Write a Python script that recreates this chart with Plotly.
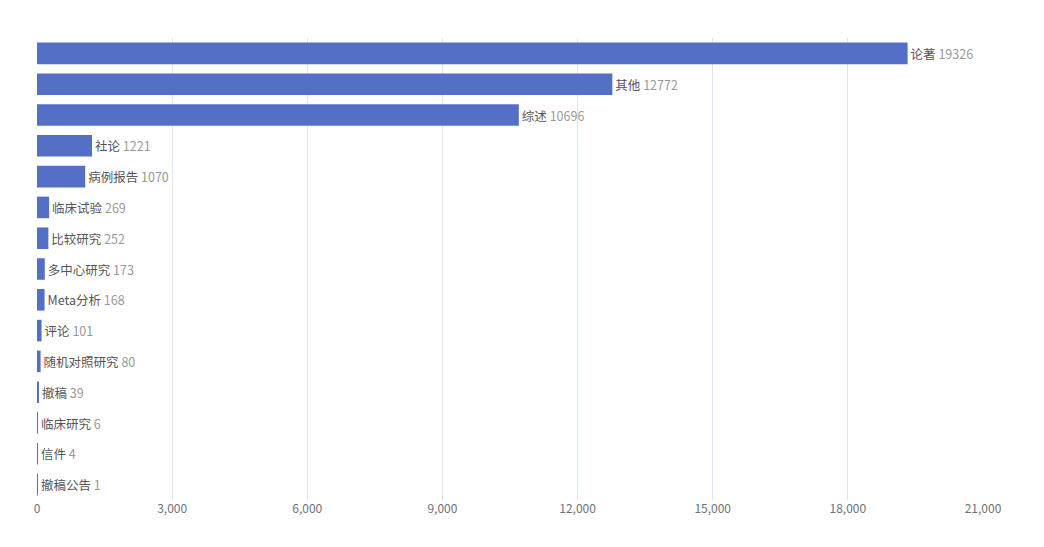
import plotly.graph_objects as go

categories = ["论著", "其他", "综述", "社论", "病例报告", "临床试验", "比较研究", "多中心研究",
              "Meta分析", "评论", "随机对照研究", "撤稿", "临床研究", "信件", "撤稿公告"]
values = [19326, 12772, 10696, 1221, 1070, 269, 252, 173, 168, 101, 80, 39, 6, 4, 1]
x_ticks = [0, 3000, 6000, 9000, 12000, 15000, 18000, 21000]

labels = [f"<span style='color:#555555'>{c}</span> <span style='color:#999999'>{v}</span>"
          for c, v in zip(categories, values)]

fig = go.Figure(go.Bar(
    y=categories, x=values, orientation="h",
    marker=dict(color="#5470c6", line=dict(width=0)),
    width=0.7,
    text=labels, textposition="outside", cliponaxis=False,
    textfont=dict(size=12.5, family="Noto Sans CJK SC"),
    hoverinfo="skip",
))

fig.update_layout(
    width=1044, height=547,
    margin=dict(l=37, r=61, t=38, b=47),
    paper_bgcolor="white", plot_bgcolor="white",
    showlegend=False,
    font=dict(family="Noto Sans CJK SC", size=12, color="#6e7079"),
    xaxis=dict(range=[0, 21000], tickvals=x_ticks,
               ticktext=[f"{t:,}" for t in x_ticks],
               showgrid=True, gridcolor="#e0e6f1", gridwidth=1,
               zeroline=False, showline=False, ticks="",
               tickfont=dict(size=12, color="#6e7079")),
    yaxis=dict(autorange="reversed", showticklabels=False, showgrid=False,
               zeroline=False, showline=False, ticks=""),
)

fig.write_html("out.html")
